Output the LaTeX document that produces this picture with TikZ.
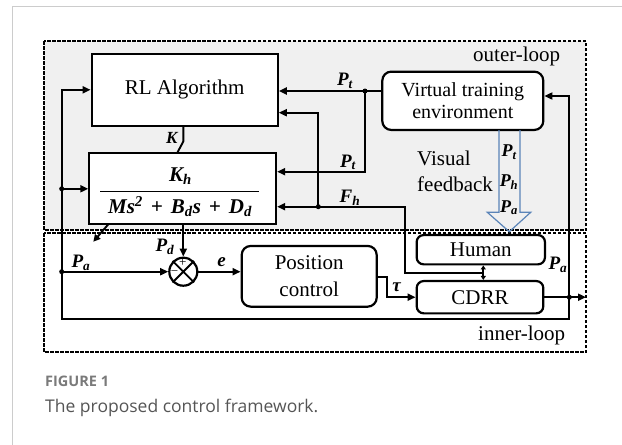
\documentclass[tikz,border=0pt]{standalone}
\usepackage{fontspec}
\setmainfont{Liberation Serif}
\newfontfamily\capfont{Open Sans}
\usetikzlibrary{arrows.meta,calc}
\definecolor{arrowblue}{HTML}{5A84B8}
\definecolor{capgray}{HTML}{555555}
\definecolor{figgray}{HTML}{7A7A7A}
\begin{document}
\begin{tikzpicture}[x=1pt,y=-1pt,
  box/.style={draw, line width=2.2pt, fill=white, font=\fontsize{21}{26}\selectfont, align=center, inner sep=0},
  rbox/.style={box, rounded corners=9pt},
  con/.style={line width=1.9pt},
  arr/.style={con, -{Triangle[length=8pt,width=7pt]}},
  lbl/.style={font=\fontsize{19}{19}\selectfont\bfseries\itshape, inner sep=0},
  loopbox/.style={draw, line width=1.1pt, dash pattern=on 3.5pt off 1.5pt},
  txt/.style={font=\fontsize{21}{26}\selectfont, inner sep=0}]
\useasboundingbox (0,0) rectangle (622,445);
% card border
\draw[gray!40, line width=1pt] (12,460) -- (12,6.7) -- (640,6.7);
% loop areas
\draw[loopbox, fill=gray!12] (44,41) rectangle (586,230);
\draw[loopbox, fill=white] (44,233) rectangle (586,352);
\node[txt] (outerlbl) at (516.7,56.7) {outer-loop};
\node[txt] (innerlbl) at (521.7,335) {inner-loop};
% blocks
\node[box, minimum width=186pt, minimum height=71.7pt] (rl) at (184.7,89.8) {RL Algorithm};
\node[box, minimum width=186.7pt, minimum height=71pt] (tf) at (182.7,188.8) {};
\node[lbl, font=\fontsize{21}{21}\selectfont\bfseries\itshape] (num) at (180.5,176) {K\textsubscript{h}};
\draw[line width=1pt] (100,191) -- (259,191);
\node[lbl, font=\fontsize{21}{21}\selectfont\bfseries\itshape] (den) at (180,206.5) {Ms\textsuperscript{\fontsize{15}{15}\selectfont 2}\hspace{8pt}+\hspace{8pt}B\textsubscript{d}s\hspace{8pt}+\hspace{8pt}D\textsubscript{d}};
\node[rbox, minimum width=161pt, minimum height=58.3pt, font=\fontsize{20}{21.7}\selectfont] (vte) at (462.8,100.8) {Virtual training\\environment};
\node[rbox, minimum width=135pt, minimum height=60.7pt, font=\fontsize{21}{26.7}\selectfont] (pc) at (309.2,276.3) {Position\\control};
\node[rbox, rounded corners=7pt, minimum width=128.3pt, minimum height=29.3pt] (hum) at (480.8,249.7) {Human};
\node[rbox, rounded corners=7pt, minimum width=126.6pt, minimum height=32.3pt] (cdrr) at (480,297.2) {CDRR};
\node[circle, draw, line width=2.2pt, minimum size=28pt, inner sep=0, fill=white] (sum) at (183.3,271.7) {};
\draw[line width=1.9pt] (sum.north west) -- (sum.south east) (sum.north east) -- (sum.south west);
\node[inner sep=0, font=\fontsize{13}{13}\selectfont] (plus) at (182.8,263.3) {+};
\node[inner sep=0, font=\fontsize{13}{13}\selectfont] (minus) at (174.5,273.3) {\textminus};
% helper coordinates
\coordinate (jpt) at (365,91);
\coordinate (jfh) at (318.3,206.7);
\coordinate (jhc) at (483.3,272.7);
\coordinate (fc) at (405,206.7);
\coordinate (jpa) at (569.3,297.2);
\coordinate (out) at (586,297.2);
\coordinate (lft) at (61.7,319.3);
\coordinate (yA) at (0,171.7);
\coordinate (yB) at (0,112.7);
\coordinate (yC) at (0,96);
\coordinate (kb) at (183.3,141.5);
\coordinate (kc) at (177,153.3);
\coordinate (d1) at (108.3,224.3);
\coordinate (d2) at (93.3,241.7);
\coordinate (tc) at (387.3,277.3);
% connectors
\draw[arr] (vte.west |- jpt) -- (rl.east |- jpt);
\draw[arr] (jpt) |- (tf.east |- yA);
\draw[arr] (jhc) -| (fc) -- (tf.east |- fc);
\draw[arr] (jfh) |- (rl.east |- yB);
\draw[con, {Triangle[length=4pt,width=5pt]}-{Triangle[length=4pt,width=5pt]}] (hum.south -| jhc) -- (cdrr.north -| jhc);
\draw[con] (rl.south -| kb) -- (kb) -- (kc);
\draw[arr] (tf.south -| sum) -- (sum.north);
\draw[con, -{Triangle[length=7pt,width=7pt]}] (d1) -- (d2);
\draw[arr] (cdrr.east) -- (out);
\draw[arr] (jpa) |- (lft) |- (rl.west);
\draw[arr] (jpa) |- (vte.east |- yC);
\draw[arr] (lft |- tf.west) -- (tf.west);
\draw[arr] (lft |- sum) -- (sum.west);
\draw[arr] (sum.east) -- (pc.west |- sum);
\draw[arr] (pc.east |- tc) -- (tc) |- (cdrr.west);
\foreach \p in {jpt, jfh, jpa} \fill (\p) circle (2.5pt);
\fill (lft |- tf.west) circle (2.5pt);
\fill (lft |- sum) circle (2.5pt);
% visual feedback arrow
\draw[arrowblue, line width=1.2pt] (499,130) -- (499,212.3) -- (487.3,212.3) -- (509.3,231.7) -- (530.7,212.3) -- (520,212.3) -- (520,130);
% labels
\node[lbl] (lpt1) at (345,81) {P\textsubscript{t}};
\node[lbl] (lpt2) at (348,162.5) {P\textsubscript{t}};
\node[lbl] (lfh) at (350,198) {F\textsubscript{h}};
\node[lbl, font=\fontsize{17}{17}\selectfont\bfseries\itshape] (lk) at (171.7,137.7) {K};
\node[lbl] (lpd) at (165,247) {P\textsubscript{d}};
\node[lbl] (lpa1) at (81,263) {P\textsubscript{a}};
\node[lbl] (le) at (221.7,262) {e};
\node[lbl] (ltau) at (396.7,287) {τ};
\node[lbl] (lpa2) at (558,265) {P\textsubscript{a}};
\node[lbl, font=\fontsize{18}{18}\selectfont\bfseries\itshape] (vpt) at (509,152) {P\textsubscript{t}};
\node[lbl, font=\fontsize{18}{18}\selectfont\bfseries\itshape] (vph) at (509,182) {P\textsubscript{h}};
\node[lbl, font=\fontsize{18}{18}\selectfont\bfseries\itshape] (vpa) at (509,207.5) {P\textsubscript{a}};
\node[txt, anchor=west] (vis1) at (417,158.3) {Visual};
\node[txt, anchor=west] (vis2) at (417,184.3) {feedback};
% caption
\node[anchor=west, inner sep=0, text=figgray, font=\capfont\fontsize{14.5}{14.5}\selectfont\bfseries] (fig) at (45,381.7) {FIGURE 1};
\node[anchor=west, inner sep=0, text=capgray, font=\capfont\fontsize{17.5}{17.5}\selectfont] (cap) at (45,407.5) {The proposed control framework.};
\end{tikzpicture}
\end{document}
